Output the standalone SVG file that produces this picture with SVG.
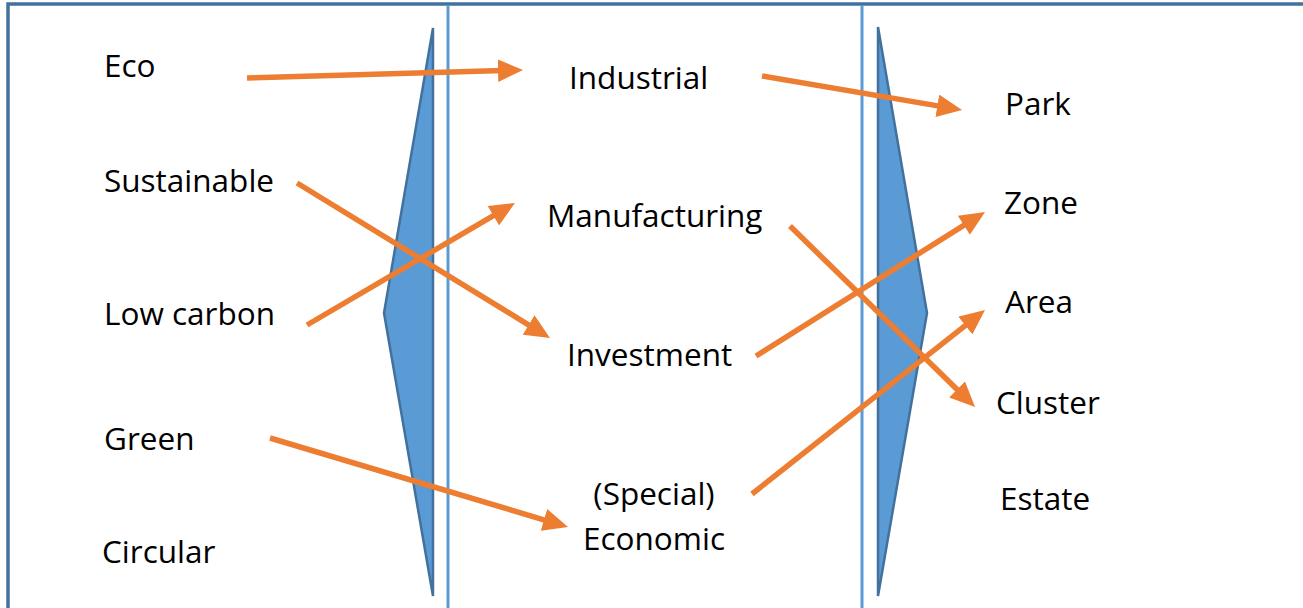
<svg xmlns="http://www.w3.org/2000/svg" width="1303" height="608" viewBox="0 0 1303 608">
<style>
.t{font-family:"Open Sans","Liberation Sans",Arial,sans-serif;font-size:31.5px;fill:#000}
.c{stroke:#ED7D31;stroke-width:5.5;fill:none;marker-end:url(#ah)}
.w{fill:#5B9BD5;stroke:#41719C;stroke-width:2.5;stroke-linejoin:miter}
.v{stroke:#5B9BD5;stroke-width:3}
</style>
<defs>
<marker id="ah" viewBox="0 0 10 9" refX="2" refY="4.5" markerWidth="4.6" markerHeight="4.1" orient="auto" markerUnits="strokeWidth">
<path d="M0,0 L10,4.5 L0,9 z" fill="#ED7D31"/>
</marker>
</defs>
<rect x="8" y="4" width="1310" height="620" fill="#fff" stroke="#41719C" stroke-width="3.5"/>
<g id="dividers">
<line class="v" x1="448" y1="6" x2="448" y2="608"/>
<line class="v" x1="862" y1="6" x2="862" y2="608"/>
</g>
<g id="wedge-left"><polygon class="w" points="433,28 384,313 433,596"/></g>
<g id="wedge-right"><polygon class="w" points="878,27 927,313 878,596"/></g>
<g id="n-eco"><text class="t" x="104" y="77">Eco</text></g>
<g id="n-sustainable"><text class="t" x="104" y="192">Sustainable</text></g>
<g id="n-lowcarbon"><text class="t" x="104" y="325">Low carbon</text></g>
<g id="n-green"><text class="t" x="104" y="450">Green</text></g>
<g id="n-circular"><text class="t" x="102" y="563">Circular</text></g>
<g id="n-industrial"><text class="t" x="569" y="89">Industrial</text></g>
<g id="n-manufacturing"><text class="t" x="547" y="227">Manufacturing</text></g>
<g id="n-investment"><text class="t" x="567" y="366">Investment</text></g>
<g id="n-economic"><text class="t" x="654" y="505" text-anchor="middle">(Special)</text><text class="t" x="654" y="550" text-anchor="middle">Economic</text></g>
<g id="n-park"><text class="t" x="1005" y="115">Park</text></g>
<g id="n-zone"><text class="t" x="1004" y="214">Zone</text></g>
<g id="n-area"><text class="t" x="1005" y="313">Area</text></g>
<g id="n-cluster"><text class="t" x="996" y="414">Cluster</text></g>
<g id="n-estate"><text class="t" x="1000" y="510">Estate</text></g>
<g id="connectors">
<line class="c" x1="247" y1="78" x2="503" y2="70.6"/>
<line class="c" x1="762" y1="76" x2="942.3" y2="106.6"/>
<line class="c" x1="297" y1="183" x2="532.9" y2="327.6"/>
<line class="c" x1="307" y1="325" x2="497.7" y2="213.1"/>
<line class="c" x1="270" y1="438" x2="548.8" y2="521.3"/>
<line class="c" x1="790" y1="226" x2="960.7" y2="393"/>
<line class="c" x1="756" y1="356" x2="968.1" y2="222.6"/>
<line class="c" x1="752" y1="494" x2="969.3" y2="322.4"/>
</g>
</svg>
